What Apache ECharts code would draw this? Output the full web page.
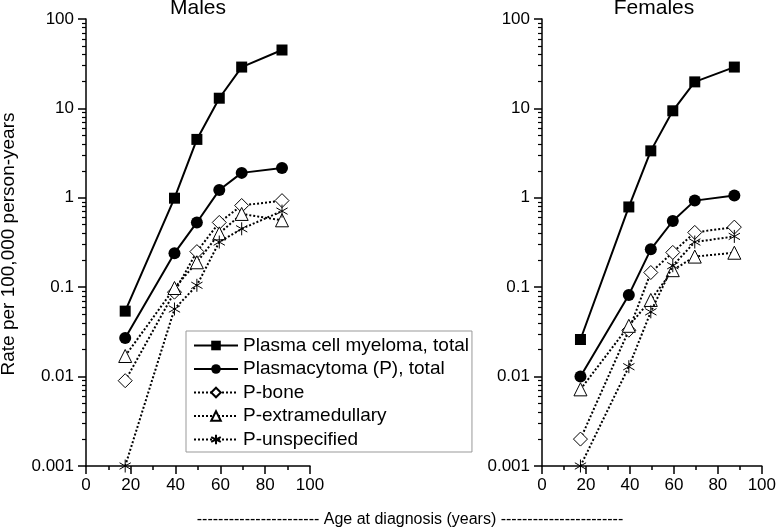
<!DOCTYPE html>
<html>
<head>
<meta charset="utf-8">
<script src="https://cdn.jsdelivr.net/npm/echarts@6/dist/echarts.min.js"></script>
<style>
html,body{margin:0;padding:0;background:#fff;}
#c{width:779px;height:531px;}
</style>
</head>
<body>
<div id="c"></div>
<script>
// ---- data ----
const ages = [17.5, 39.5, 49.5, 59.5, 69.5, 87.5];
const seriesNames = ['Plasma cell myeloma, total', 'Plasmacytoma (P), total', 'P-bone', 'P-extramedullary', 'P-unspecified'];
const malesMyeloma = [0.054, 0.99, 4.5, 13, 29, 45];
const malesPlasmacytoma = [0.027, 0.24, 0.53, 1.22, 1.9, 2.15];
const malesBone = [0.009, 0.088, 0.25, 0.53, 0.82, 0.93];
const malesExtra = [0.017, 0.098, 0.19, 0.40, 0.66, 0.56];
const malesUnspec = [0.001, 0.057, 0.105, 0.32, 0.45, 0.71];
const femalesMyeloma = [0.026, 0.79, 3.35, 9.4, 19.8, 29];
const femalesPlasmacytoma = [0.010, 0.082, 0.265, 0.55, 0.93, 1.06];
const femalesBone = [0.002, 0.033, 0.146, 0.245, 0.41, 0.47];
const femalesExtra = [0.0072, 0.037, 0.072, 0.155, 0.22, 0.243];
const femalesUnspec = [0.001, 0.0129, 0.053, 0.174, 0.32, 0.37];
const panelTitles = ['Males', 'Females'];
const yTitle = 'Rate per 100,000 person-years';
const xTitle = '----------------------- Age at diagnosis (years) -----------------------';
const xTicks = [0, 20, 40, 60, 80, 100];
const yMin = 0.001, yMax = 100;

// ---- build ----
const FONT = "'Liberation Sans', Arial, sans-serif";
const minorVals = [];
for (let e = -3; e < 2; e++) {
  for (let m = 2; m <= 9; m++) minorVals.push(+(m * Math.pow(10, e)).toPrecision(2));
}
const asterisk = 'path://M5,0L5,10M0.67,2.5L9.33,7.5M0.67,7.5L9.33,2.5';
const styles = [
  {symbol: 'rect', symbolSize: 11, fill: '#000', dash: 'solid'},
  {symbol: 'circle', symbolSize: 12, fill: '#000', dash: 'solid'},
  {symbol: 'diamond', symbolSize: 14, fill: '#fff', dash: 'dotted'},
  {symbol: 'triangle', symbolSize: 13, fill: '#fff', dash: 'dotted'},
  {symbol: asterisk, symbolSize: 13, fill: '#fff', dash: 'dotted'}
];
const panels = [
  [malesMyeloma, malesPlasmacytoma, malesBone, malesExtra, malesUnspec],
  [femalesMyeloma, femalesPlasmacytoma, femalesBone, femalesExtra, femalesUnspec]
];
const grids = [
  {left: 86, top: 19, width: 224, height: 447},
  {left: 542, top: 19, width: 223, height: 447}
];
const xAxes = [], yAxes = [], series = [];
grids.forEach((g, gi) => {
  xAxes.push({
    type: 'value', gridIndex: gi, min: xTicks[0], max: xTicks[xTicks.length - 1], interval: 20,
    axisLine: {show: true, lineStyle: {color: '#000', width: 1.5}},
    axisTick: {show: true, length: 8, lineStyle: {color: '#000', width: 1.5}},
    minorTick: {show: true, splitNumber: 2, length: 4, lineStyle: {color: '#000', width: 1.5}},
    axisLabel: {color: '#000', fontSize: 17, fontFamily: FONT, margin: 11},
    splitLine: {show: false}
  });
  yAxes.push({
    type: 'log', logBase: 10, gridIndex: gi, min: yMin, max: yMax, splitNumber: 5,
    axisLine: {show: true, lineStyle: {color: '#000', width: 1.5}},
    axisTick: {show: true, length: 8, lineStyle: {color: '#000', width: 1.5}},
    axisLabel: {color: '#000', fontSize: 17, fontFamily: FONT, margin: 12,
      formatter: v => v >= 1 ? String(Math.round(v)) : String(+(+v).toPrecision(1))},
    splitLine: {show: false}
  });
});
grids.forEach((g, gi) => {
  yAxes.push({
    type: 'log', logBase: 10, gridIndex: gi, min: yMin, max: yMax, position: 'left',
    axisLine: {show: false},
    axisTick: {show: true, length: 4, customValues: minorVals, lineStyle: {color: '#000', width: 1.2}},
    axisLabel: {show: false},
    splitLine: {show: false}
  });
});
panels.forEach((arrs, gi) => {
  arrs.forEach((vals, si) => {
    const st = styles[si];
    series.push({
      name: seriesNames[si], type: 'line', xAxisIndex: gi, yAxisIndex: gi,
      data: ages.map((a, i) => [a, vals[i]]),
      symbol: st.symbol, symbolSize: st.symbolSize, symbolKeepAspect: true,
      showSymbol: true, clip: false, animation: false,
      lineStyle: {color: '#000', width: 2, type: st.dash},
      itemStyle: {color: st.fill, borderColor: '#000', borderWidth: si < 2 ? 0 : 1},
      emphasis: {disabled: true}, z: 2 + si
    });
  });
});

const chart = echarts.init(document.getElementById('c'), null, {renderer: 'canvas'});
chart.setOption({
  backgroundColor: '#fff',
  animation: false,
  grid: grids,
  xAxis: xAxes,
  yAxis: yAxes,
  series: series,
  legend: {
    data: seriesNames, orient: 'vertical', left: 186, top: 331,
    padding: [5, 3, 3, 7], itemGap: 4.5, itemWidth: 44, itemHeight: 12,
    borderColor: '#999', borderWidth: 1, backgroundColor: '#fff',
    textStyle: {fontSize: 19, color: '#000', fontFamily: FONT},
    selectedMode: false
  },
  graphic: [
    {type: 'text', x: 198, y: 8, style: {text: panelTitles[0], font: '21px ' + FONT, fill: '#000', textAlign: 'center', textVerticalAlign: 'middle'}},
    {type: 'text', x: 654, y: 8, style: {text: panelTitles[1], font: '21px ' + FONT, fill: '#000', textAlign: 'center', textVerticalAlign: 'middle'}},
    {type: 'text', x: 9, y: 244, rotation: Math.PI / 2, style: {text: yTitle, font: '19px ' + FONT, fill: '#000', textAlign: 'center', textVerticalAlign: 'middle'}},
    {type: 'text', x: 410, y: 520, style: {text: xTitle, font: '16px ' + FONT, fill: '#000', textAlign: 'center', textVerticalAlign: 'middle'}}
  ]
});
</script>
</body>
</html>
